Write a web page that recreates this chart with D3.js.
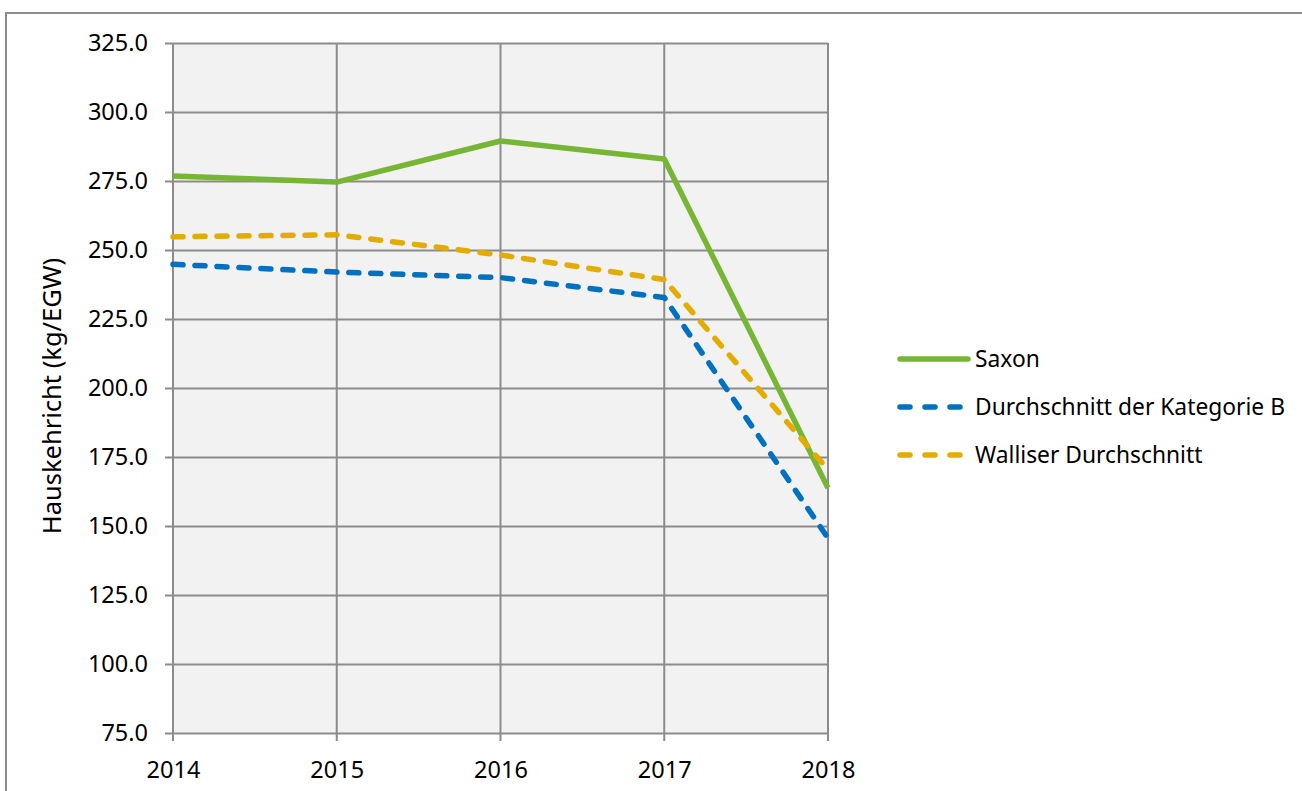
<!DOCTYPE html>
<html>
<head>
<meta charset="utf-8">
<script src="https://cdn.jsdelivr.net/npm/d3@7"></script>
<style>
  html, body { margin: 0; padding: 0; background: #fff; }
  svg { display: block; }
  text { font-family: "Noto Sans", "Open Sans", sans-serif; fill: #000; }
</style>
</head>
<body>
<svg id="chart" width="1302" height="791"></svg>
<script>
const years = [2014, 2015, 2016, 2017, 2018];
const saxon = [276.8, 274.6, 289.5, 283.0, 163.8];
const kategorieB = [244.8, 242.0, 240.0, 232.8, 145.6];
const walliser = [254.8, 255.5, 248.2, 239.3, 170.4];
const yTicks = [75, 100, 125, 150, 175, 200, 225, 250, 275, 300, 325];
const seriesNames = ["Saxon", "Durchschnitt der Kategorie B", "Walliser Durchschnitt"];
const yTitle = "Hauskehricht (kg/EGW)";

const series = [
  { name: seriesNames[0], values: saxon, color: "#77b534", dash: null },
  { name: seriesNames[1], values: kategorieB, color: "#0070c0", dash: "10,12" },
  { name: seriesNames[2], values: walliser, color: "#e2ac00", dash: "10,12" }
];

const svg = d3.select("#chart");
const grid = "#8c8c8c";

// outer chart border
svg.append("rect").attr("x", 6).attr("y", 13).attr("width", 1310).attr("height", 800)
  .attr("fill", "#fff").attr("stroke", "#8c8c8c").attr("stroke-width", 2);

const pLeft = 173, pRight = 828, pTop = 43, pBottom = 733;
const x = d3.scalePoint().domain(years).range([pLeft, pRight]);
const y = d3.scaleLinear().domain([75, 325]).range([pBottom, pTop]);

// plot background
svg.append("rect").attr("x", pLeft).attr("y", pTop).attr("width", pRight - pLeft).attr("height", pBottom - pTop)
  .attr("fill", "#f2f2f2");

// vertical gridlines
svg.append("g").selectAll("line").data(years).join("line")
  .attr("x1", d => x(d)).attr("x2", d => x(d))
  .attr("y1", pTop).attr("y2", pBottom + 8)
  .attr("stroke", grid).attr("stroke-width", 2);

// y gridlines + axis
const yAxis = d3.axisLeft(y).tickValues(yTicks).tickSize(-(pRight - pLeft)).tickSizeOuter(0)
  .tickFormat(d3.format(".1f")).tickPadding(25);
const gy = svg.append("g").attr("transform", `translate(${pLeft},0)`).call(yAxis);
gy.select(".domain").remove();
gy.selectAll(".tick line").attr("stroke", grid).attr("stroke-width", 2).attr("x1", -8);
gy.selectAll(".tick text").attr("font-size", 23.5).attr("fill", "#000")
  .style("font-family", '"Noto Sans", sans-serif');

// x axis labels
const xAxis = d3.axisBottom(x).tickSize(0).tickSizeOuter(0).tickPadding(28);
const gx = svg.append("g").attr("transform", `translate(0,${pBottom})`).call(xAxis);
gx.select(".domain").remove();
gx.selectAll(".tick line").remove();
gx.selectAll(".tick text").attr("font-size", 23.5).attr("fill", "#000")
  .style("font-family", '"Noto Sans", sans-serif');

// lines
const line = d3.line().x((d, i) => x(years[i])).y(d => y(d));
series.forEach(s => {
  svg.append("path").datum(s.values)
    .attr("d", line)
    .attr("fill", "none")
    .attr("stroke", s.color)
    .attr("stroke-width", 5.5)
    .attr("stroke-linejoin", "round")
    .attr("stroke-linecap", s.dash ? "round" : "butt")
    .attr("stroke-dasharray", s.dash);
});

// legend
const legend = svg.append("g");
series.forEach((s, i) => {
  const ly = 359 + i * 48;
  legend.append("line").attr("x1", 900).attr("x2", s.dash ? 966 : 968).attr("y1", ly).attr("y2", ly)
    .attr("stroke", s.color).attr("stroke-width", 5.5)
    .attr("stroke-linecap", "round")
    .attr("stroke-dasharray", s.dash ? "10,15" : null);
  legend.append("text").attr("x", 975).attr("y", ly).attr("dy", "0.35em")
    .attr("font-size", 22.8).text(s.name);
});

// y title
svg.append("text").attr("transform", `translate(52,${(pTop + pBottom) / 2 + 8}) rotate(-90)`)
  .attr("text-anchor", "middle").attr("dy", "0.35em").attr("font-size", 25.5).text(yTitle);
</script>
</body>
</html>
